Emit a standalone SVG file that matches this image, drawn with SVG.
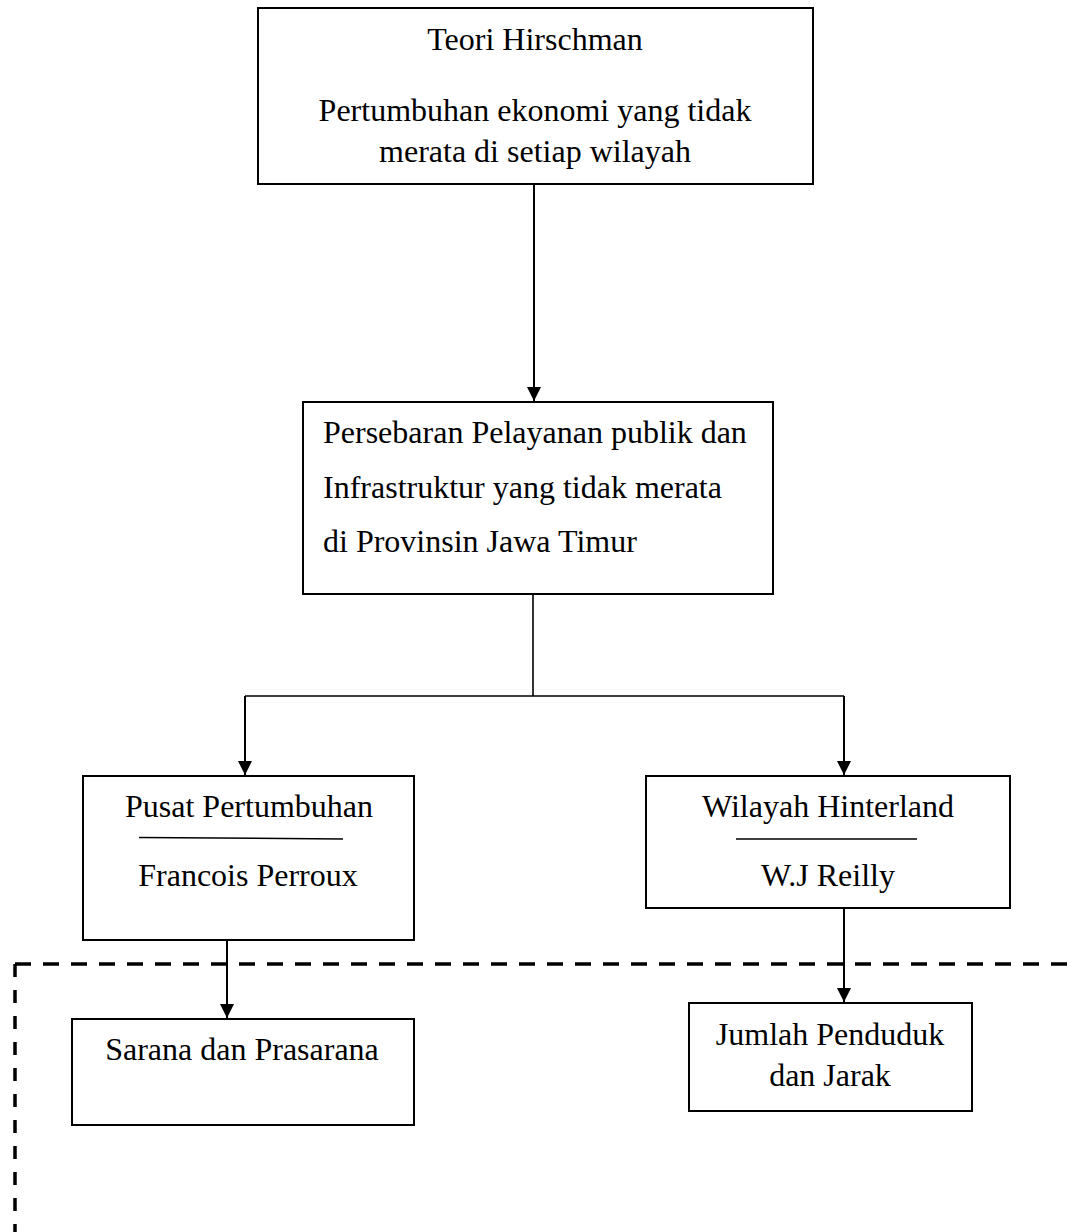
<svg xmlns="http://www.w3.org/2000/svg" width="1070" height="1232" viewBox="0 0 1070 1232">
<style>
.box{fill:#fff;stroke:#000;stroke-width:2}
.t{font-family:"Liberation Serif","Times New Roman",serif;font-size:32px;fill:#000}
.m{text-anchor:middle}
.c{fill:none;stroke:#000;stroke-width:2}
.dash{fill:none;stroke:#000;stroke-width:3.5}
</style>
<defs>
<marker id="ah" markerWidth="16" markerHeight="16" refX="14" refY="7" orient="auto" markerUnits="userSpaceOnUse">
<path d="M0,0 L14,7 L0,14 Z" fill="#000"/>
</marker>
</defs>
<rect width="1070" height="1232" fill="#fff"/>
<g id="connectors">
<line class="c" x1="534" y1="184" x2="534" y2="401" marker-end="url(#ah)"/>
<polyline class="c" points="533,594 533,696" style="stroke-width:1.6"/>
<line class="c" x1="245" y1="696" x2="844" y2="696" style="stroke-width:1.6"/>
<line class="c" x1="245" y1="696" x2="245" y2="775" marker-end="url(#ah)"/>
<line class="c" x1="844" y1="696" x2="844" y2="775" marker-end="url(#ah)"/>
<line class="c" x1="227" y1="940" x2="227" y2="1018" marker-end="url(#ah)"/>
<line class="c" x1="844" y1="908" x2="844" y2="1002" marker-end="url(#ah)"/>
</g>
<g id="boundary">
<line class="dash" x1="15" y1="964" x2="1070" y2="964" stroke-dasharray="16 12"/>
<line class="dash" x1="15" y1="964" x2="15" y2="1232" stroke-dasharray="13 13"/>
</g>
<g id="n1">
<rect class="box" x="258" y="8" width="555" height="176"/>
<text class="t m" x="535" y="50">Teori Hirschman</text>
<text class="t m" x="535" y="121">Pertumbuhan ekonomi yang tidak</text>
<text class="t m" x="535" y="162">merata di setiap wilayah</text>
</g>
<g id="n2">
<rect class="box" x="303" y="402" width="470" height="192"/>
<text class="t" x="323" y="443">Persebaran Pelayanan publik dan</text>
<text class="t" x="323" y="498">Infrastruktur yang tidak merata</text>
<text class="t" x="323" y="552">di Provinsin Jawa Timur</text>
</g>
<g id="n3">
<rect class="box" x="83" y="776" width="331" height="164"/>
<text class="t m" x="249" y="817">Pusat Pertumbuhan</text>
<line x1="139" y1="837.5" x2="343" y2="839" stroke="#000" stroke-width="1.5"/>
<text class="t m" x="248" y="886">Francois Perroux</text>
</g>
<g id="n4">
<rect class="box" x="646" y="776" width="364" height="132"/>
<text class="t m" x="828" y="817">Wilayah Hinterland</text>
<line x1="736" y1="839" x2="917" y2="839" stroke="#000" stroke-width="1.5"/>
<text class="t m" x="828" y="886">W.J Reilly</text>
</g>
<g id="n5">
<rect class="box" x="72" y="1019" width="342" height="106"/>
<text class="t m" x="242" y="1060">Sarana dan Prasarana</text>
</g>
<g id="n6">
<rect class="box" x="689" y="1003" width="283" height="108"/>
<text class="t m" x="830" y="1045">Jumlah Penduduk</text>
<text class="t m" x="830" y="1086">dan Jarak</text>
</g>
</svg>
